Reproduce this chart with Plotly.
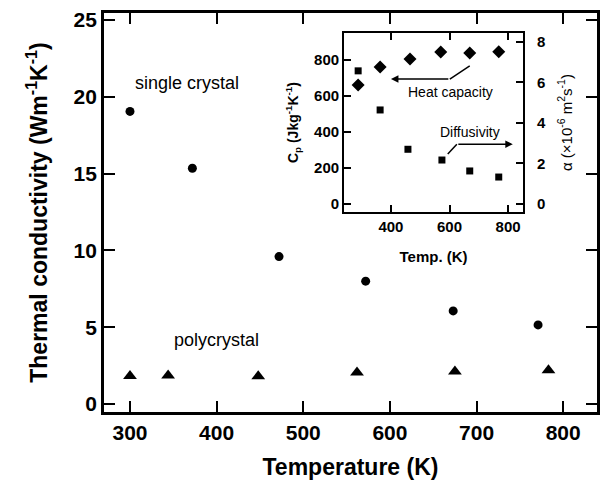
import plotly.graph_objects as go

# Thermal conductivity vs temperature
single_T = [300, 372, 472, 572, 673, 771]
single_k = [19.05, 15.35, 9.6, 8.0, 6.06, 5.15]
poly_T = [300, 344, 448, 562, 675, 783]
poly_k = [1.83, 1.85, 1.8, 2.05, 2.12, 2.2]

# Inset: heat capacity and thermal diffusivity
cp_T = [288, 363, 465, 570, 669, 768]
cp_val = [661, 761, 805, 844, 839, 846]
alpha_T = [288, 363, 458, 574, 669, 768]
alpha_val = [6.57, 4.64, 2.7, 2.17, 1.63, 1.33]

main_ticks_x = [300, 400, 500, 600, 700, 800]
main_ticks_y = [0, 5, 10, 15, 20, 25]
inset_ticks_x = [400, 600, 800]
inset_ticks_cp = [0, 200, 400, 600, 800]
inset_ticks_alpha = [0, 2, 4, 6, 8]

FONT = "Liberation Sans, Arial, Helvetica, sans-serif"

fig = go.Figure()

fig.add_trace(go.Scatter(x=single_T, y=single_k, mode="markers",
                         marker=dict(symbol="circle", size=9, color="black"),
                         xaxis="x", yaxis="y", showlegend=False))
fig.add_trace(go.Scatter(x=poly_T, y=poly_k, mode="markers",
                         marker=dict(symbol="triangle-up", size=12, color="black"),
                         xaxis="x", yaxis="y", showlegend=False))
fig.add_trace(go.Scatter(x=cp_T, y=cp_val, mode="markers",
                         marker=dict(symbol="diamond", size=10, color="black"),
                         xaxis="x2", yaxis="y2", showlegend=False))
fig.add_trace(go.Scatter(x=alpha_T, y=alpha_val, mode="markers",
                         marker=dict(symbol="square", size=7, color="black"),
                         xaxis="x2", yaxis="y3", showlegend=False))

main_axis = dict(showline=True, linecolor="black", linewidth=2.8, mirror="ticks",
                 ticks="inside", tickwidth=2, ticklen=11, tickcolor="black",
                 showgrid=False, zeroline=False, automargin=False,
                 tickfont=dict(family=FONT, size=21, color="black", weight="bold"))
inset_axis = dict(showline=True, linecolor="black", linewidth=2,
                  ticks="inside", tickwidth=2, ticklen=7, tickcolor="black",
                  showgrid=False, zeroline=False, automargin=False,
                  tickfont=dict(family=FONT, size=15, color="black", weight="bold"))

x_dom_inset = [0.487, 0.850]
y_dom_inset = [0.501, 0.950]

fig.update_layout(
    width=607, height=483,
    margin=dict(l=104, r=10, t=13, b=71),
    paper_bgcolor="white", plot_bgcolor="white",
    font=dict(family=FONT, color="black"),
    xaxis=dict(main_axis, range=[270, 839], tickvals=main_ticks_x, domain=[0, 1],
               title=dict(text="Temperature (K)", standoff=16,
                          font=dict(family=FONT, size=23, weight="bold"))),
    yaxis=dict(main_axis, range=[-0.52, 25.46], tickvals=main_ticks_y, domain=[0, 1],
               title=dict(text="Thermal conductivity (Wm<sup>-1</sup>K<sup>-1</sup>)", standoff=20,
                          font=dict(family=FONT, size=23, weight="bold"))),
    xaxis2=dict(inset_axis, mirror="ticks", range=[240, 851], tickvals=inset_ticks_x,
                domain=x_dom_inset, anchor="y2",
                title=dict(text="Temp. (K)", standoff=17,
                           font=dict(family=FONT, size=15, weight="bold"))),
    yaxis2=dict(inset_axis, range=[-44, 950], tickvals=inset_ticks_cp,
                domain=y_dom_inset, anchor="x2",
                title=dict(text="C<sub>p</sub> (Jkg<sup>-1</sup>K<sup>-1</sup>)", standoff=12,
                           font=dict(family=FONT, size=14, weight="bold"))),
    yaxis3=dict(inset_axis, range=[-0.4, 8.44], tickvals=inset_ticks_alpha,
                overlaying="y2", anchor="x2", side="right", ticklabelstandoff=9,
                title=dict(text="α (×10<sup>-6</sup> m<sup>2</sup>s<sup>-1</sup>)", standoff=16,
                           font=dict(family=FONT, size=15))),
)

# Series labels
fig.add_annotation(x=366, y=20.9, xref="x", yref="y", text="single crystal",
                   showarrow=False, font=dict(family=FONT, size=18))
fig.add_annotation(x=400, y=4.2, xref="x", yref="y", text="polycrystal",
                   showarrow=False, font=dict(family=FONT, size=18))

# Inset callouts
fig.add_annotation(x=604, y=622, xref="x2", yref="y2", text="Heat capacity",
                   showarrow=False, font=dict(family=FONT, size=14))
fig.add_shape(type="line", xref="x2", yref="y2", x0=669, y0=767, x1=601, y1=694,
              line=dict(color="black", width=1.5))
fig.add_annotation(x=400, y=694, ax=601, ay=694, xref="x2", yref="y2",
                   axref="x2", ayref="y2", text="", showarrow=True,
                   arrowhead=2, arrowsize=1, arrowwidth=1.5, arrowcolor="black")

fig.add_annotation(x=669, y=400, xref="x2", yref="y2", text="Diffusivity",
                   showarrow=False, font=dict(family=FONT, size=14))
fig.add_shape(type="line", xref="x2", yref="y2", x0=594, y0=278, x1=625, y1=333,
              line=dict(color="black", width=1.5))
fig.add_annotation(x=816, y=333, ax=625, ay=333, xref="x2", yref="y2",
                   axref="x2", ayref="y2", text="", showarrow=True,
                   arrowhead=2, arrowsize=1, arrowwidth=1.5, arrowcolor="black")

fig.write_html("out.html")
